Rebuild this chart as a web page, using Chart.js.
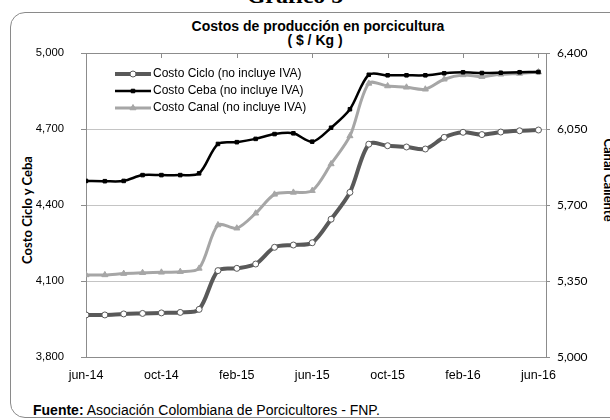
<!DOCTYPE html>
<html>
<head>
<meta charset="utf-8">
<script src="https://cdn.jsdelivr.net/npm/chart.js@4.4.1/dist/chart.umd.min.js"></script>
<style>
    html, body { margin: 0; padding: 0; width: 610px; height: 420px; overflow: hidden; background: #fff; }
    #wrap { position: relative; width: 610px; height: 420px; }
    #frame { position: absolute; left: 10px; top: 12px; width: 640px; height: 406px; border: 1px solid #8a8a8a; border-radius: 15px; box-sizing: border-box; }
    #chartBox { position: absolute; left: 0; top: 0; width: 610px; height: 420px; }
    .txt { position: absolute; white-space: nowrap; font-family: "Liberation Sans", Arial, sans-serif; color: #000; }
    #grafico { left: 0; width: 590px; top: -17px; text-align: center; font: bold 24px/24px "Liberation Serif", serif; }
    #title1 { left: 0; width: 636px; top: 18px; text-align: center; font-weight: bold; font-size: 14px; line-height: 16px; }
    #title2 { left: 0; width: 630px; top: 32px; text-align: center; font-weight: bold; font-size: 14px; line-height: 16px; }
    #yTitle { left: 27px; top: 210px; font: bold 13px Lato, sans-serif; transform: translate(-50%, -50%) rotate(-90deg); }
    #y1Title { left: 609px; top: 180px; font: bold 13px Lato, sans-serif; transform: translate(-50%, -50%) rotate(90deg); }
    #fuente { left: 33px; top: 402px; font-size: 14px; line-height: 16px; }
</style>
</head>
<body>
<div id="wrap">
    <div id="frame"></div>
    <div class="txt" id="grafico">Gráfico 5</div>
    <div class="txt" id="title1">Costos de producción en porcicultura</div>
    <div class="txt" id="title2">( $ / Kg )</div>
    <div class="txt" id="yTitle">Costo Ciclo y Ceba</div>
    <div class="txt" id="y1Title">Canal Caliente</div>
    <div class="txt" id="fuente"><b>Fuente:</b> Asociación Colombiana de Porcicultores - FNP.</div>
    <div id="chartBox"><canvas id="costChart" width="610" height="420"></canvas></div>
</div>
<script>
// meses jun-14 .. jun-16
const months = ['jun-14', 'jul-14', 'ago-14', 'sep-14', 'oct-14', 'nov-14', 'dic-14',
    'ene-15', 'feb-15', 'mar-15', 'abr-15', 'may-15', 'jun-15', 'jul-15', 'ago-15', 'sep-15',
    'oct-15', 'nov-15', 'dic-15', 'ene-16', 'feb-16', 'mar-16', 'abr-16', 'may-16', 'jun-16'];
const xTickLabels = ['jun-14', 'oct-14', 'feb-15', 'jun-15', 'oct-15', 'feb-16', 'jun-16'];

const costoCiclo = [3966, 3966, 3970, 3972, 3974, 3976, 3988, 4141, 4150, 4167, 4233, 4242, 4251,
    4344, 4450, 4640, 4634, 4629, 4621, 4667, 4687, 4678, 4688, 4693, 4696];
const costoCeba = [4495, 4494, 4495, 4518, 4518, 4518, 4525, 4641, 4648, 4661, 4680, 4683, 4650,
    4705, 4778, 4914, 4912, 4912, 4912, 4920, 4924, 4921, 4922, 4924, 4925];
const costoCanal = [5378, 5378, 5384, 5388, 5390, 5393, 5408, 5608, 5593, 5662, 5749, 5758, 5766,
    5889, 6018, 6260, 6248, 6242, 6233, 6279, 6299, 6291, 6302, 6306, 6312];

const leftTicks = [3800, 4100, 4400, 4700, 5000];
const rightTicks = [5000, 5350, 5700, 6050, 6400];

const toPoints = arr => arr.map((v, i) => ({ x: i, y: v }));
const fmt = v => Number(v).toLocaleString('en-US');
const axisGray = '#8c8c8c';

// leyenda dentro del area de grafico
const insideLegend = {
    id: 'insideLegend',
    afterDraw(chart) {
        const ctx = chart.ctx;
        const rows = [74, 91, 108];
        ctx.save();
        chart.data.datasets.forEach((ds, i) => {
            const y = rows[i];
            ctx.strokeStyle = ds.borderColor;
            ctx.lineWidth = ds.borderWidth;
            ctx.beginPath();
            ctx.moveTo(115, y);
            ctx.lineTo(151, y);
            ctx.stroke();
            ctx.fillStyle = ds.pointBackgroundColor;
            ctx.strokeStyle = ds.pointBorderColor;
            ctx.lineWidth = ds.pointBorderWidth;
            Chart.helpers.drawPoint(ctx, {
                pointStyle: ds.pointStyle,
                radius: ds.pointRadius,
                borderWidth: ds.pointBorderWidth,
                rotation: 0
            }, 133, y);
            ctx.fillStyle = '#000';
            ctx.font = '12px "Liberation Sans", Arial, sans-serif';
            ctx.textBaseline = 'middle';
            ctx.fillText(ds.label, 153, y);
        });
        ctx.restore();
    }
};

// marcas del eje superior
const topTicks = {
    id: 'topTicks',
    afterDraw(chart) {
        const ctx = chart.ctx;
        const x = chart.scales.x;
        const top = chart.chartArea.top;
        ctx.save();
        ctx.strokeStyle = axisGray;
        ctx.lineWidth = 1;
        ctx.beginPath();
        x.ticks.forEach(t => {
            const px = Math.round(x.getPixelForValue(t.value)) + 0.5;
            ctx.moveTo(px, top);
            ctx.lineTo(px, top + 5);
        });
        ctx.stroke();
        ctx.restore();
    }
};

const ctx = document.getElementById('costChart').getContext('2d');
new Chart(ctx, {
    type: 'line',
    data: {
        datasets: [{
            label: 'Costo Ciclo (no incluye IVA)',
            data: toPoints(costoCiclo),
            yAxisID: 'y',
            borderColor: '#595959',
            borderWidth: 4,
            pointStyle: 'circle',
            pointRadius: 3,
            pointBorderWidth: 1,
            pointBackgroundColor: '#ffffff',
            pointBorderColor: '#595959',
            tension: 0.3
        }, {
            label: 'Costo Ceba (no incluye IVA)',
            data: toPoints(costoCeba),
            yAxisID: 'y',
            borderColor: '#000000',
            borderWidth: 2.5,
            pointStyle: 'rect',
            pointRadius: 2.5,
            pointBorderWidth: 1,
            pointBackgroundColor: '#000000',
            pointBorderColor: '#000000',
            tension: 0.3
        }, {
            label: 'Costo Canal (no incluye IVA)',
            data: toPoints(costoCanal),
            yAxisID: 'y1',
            borderColor: '#a6a6a6',
            borderWidth: 3,
            pointStyle: 'triangle',
            pointRadius: 3.5,
            pointBorderWidth: 1,
            pointBackgroundColor: '#a6a6a6',
            pointBorderColor: '#a6a6a6',
            tension: 0.3
        }]
    },
    options: {
        responsive: false,
        animation: false,
        events: [],
        layout: { padding: { left: 0, right: 0, top: 53, bottom: 33 } },
        plugins: { legend: { display: false }, tooltip: { enabled: false } },
        scales: {
            x: {
                type: 'linear',
                min: 0,
                max: 24.4,
                afterBuildTicks: scale => { scale.ticks = xTickLabels.map(l => ({ value: months.indexOf(l) })); },
                afterFit: scale => { scale.height = 30; },
                grid: { display: false, drawTicks: false },
                border: { display: true, color: axisGray, width: 1 },
                ticks: {
                    padding: 11,
                    maxRotation: 0,
                    autoSkip: false,
                    color: '#000',
                    font: { family: '"Liberation Sans", Arial, sans-serif', size: 12.5 },
                    callback: v => months[v]
                }
            },
            y: {
                position: 'left',
                min: 3800,
                max: 5000,
                afterBuildTicks: scale => { scale.ticks = leftTicks.map(v => ({ value: v })); },
                afterFit: scale => { scale.width = 86; },
                grid: {
                    color: c => (c.tick && c.tick.value === 5000) ? axisGray : '#c4c4c4',
                    tickColor: axisGray,
                    tickLength: 5
                },
                border: { display: true, color: axisGray, width: 1 },
                ticks: {
                    padding: 17,
                    color: '#000',
                    font: { family: '"Liberation Sans", Arial, sans-serif', size: 11.3 },
                    callback: v => fmt(v)
                }
            },
            y1: {
                position: 'right',
                min: 5000,
                max: 6400,
                afterBuildTicks: scale => { scale.ticks = rightTicks.map(v => ({ value: v })); },
                afterFit: scale => { scale.width = 64; },
                grid: { drawOnChartArea: false, tickColor: axisGray, tickLength: 4 },
                border: { display: true, color: axisGray, width: 1 },
                ticks: {
                    padding: 7,
                    color: '#000',
                    font: { family: 'Lato, sans-serif', size: 12 },
                    callback: v => fmt(v)
                }
            }
        }
    },
    plugins: [insideLegend, topTicks]
});
</script>
</body>
</html>
